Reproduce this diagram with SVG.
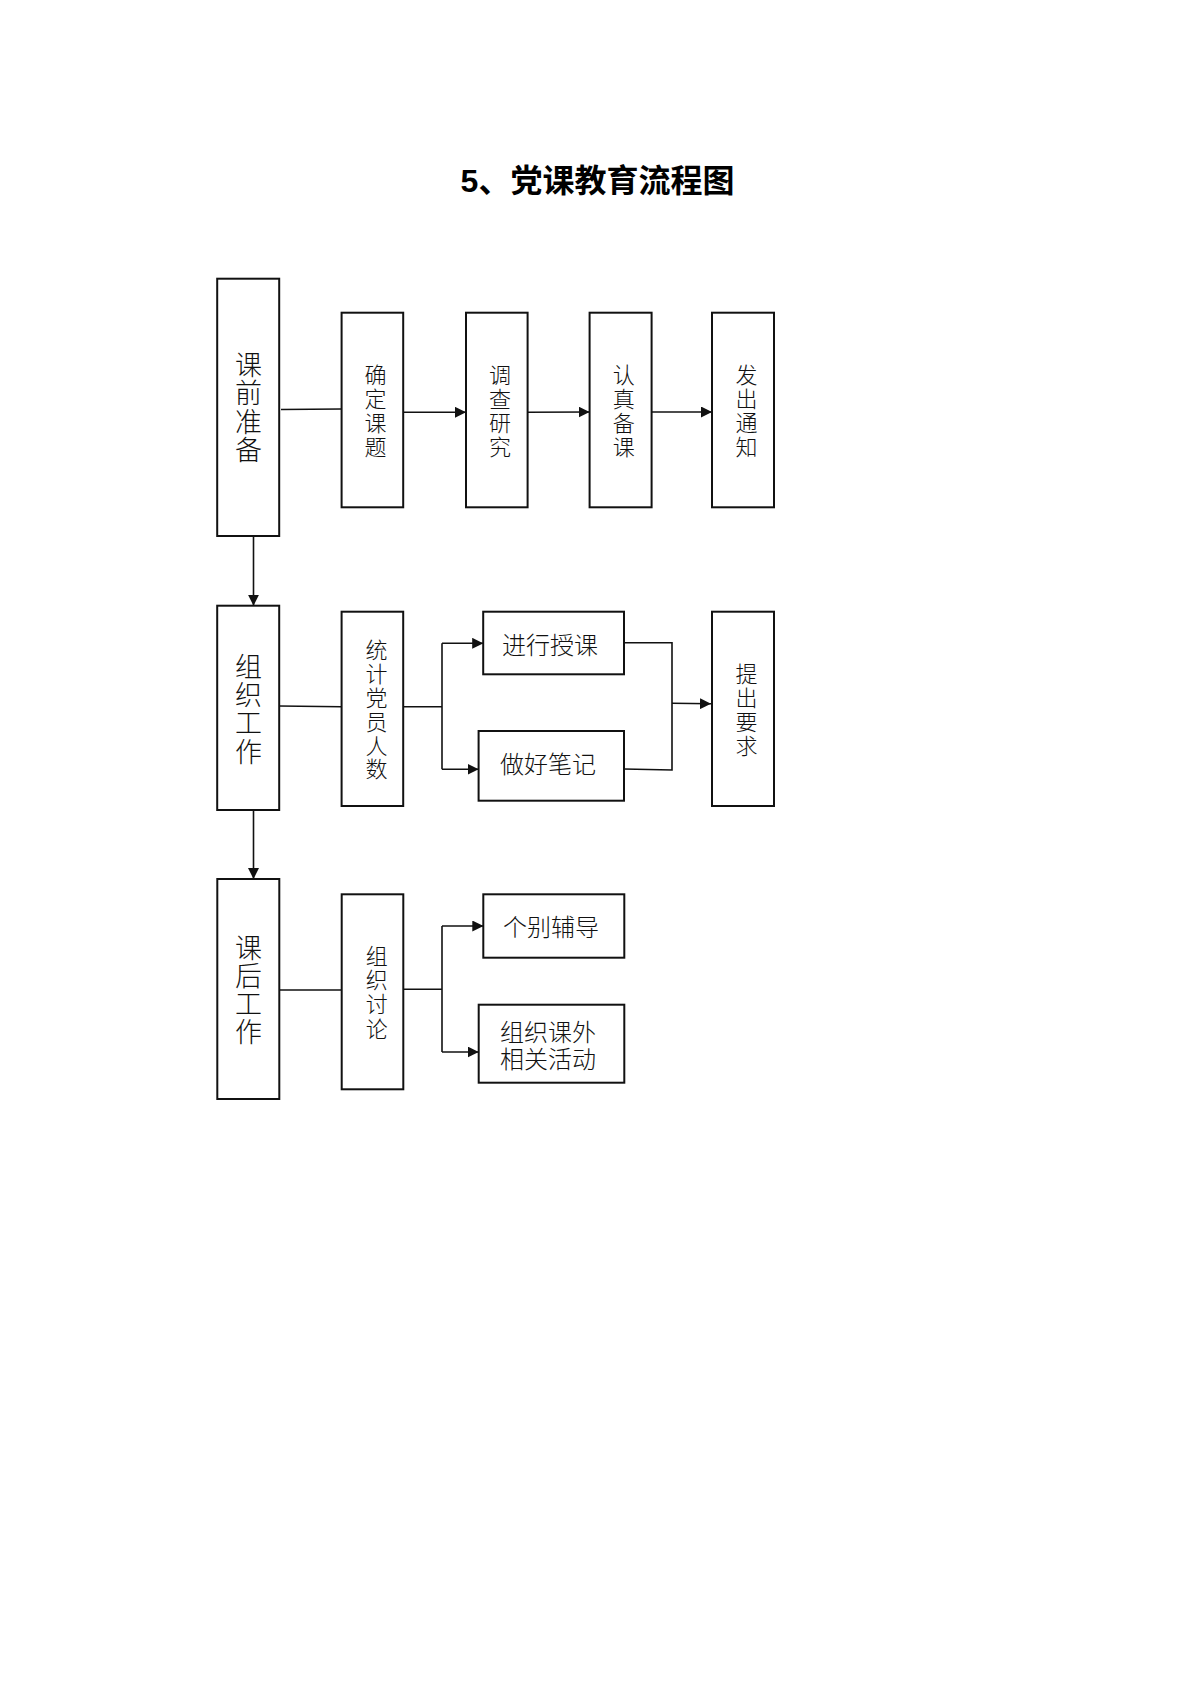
<svg xmlns="http://www.w3.org/2000/svg" width="1200" height="1698" viewBox="0 0 1200 1698">
<style>
.box{fill:#fff;stroke:#111;stroke-width:2}
.ln{fill:none;stroke:#111;stroke-width:1.6}
.arr{marker-end:url(#ah)}
.t{font-family:"Noto Sans CJK SC","Liberation Sans",sans-serif;fill:#111;text-anchor:middle;font-weight:300}
.big{font-size:27px}
.sm{font-size:22px}
.hz{font-size:24px}
.title{font-family:"Liberation Sans","Noto Sans CJK SC",sans-serif;font-weight:bold;font-size:32px;text-anchor:middle;fill:#000}
</style>
<defs>
<marker id="ah" markerUnits="userSpaceOnUse" markerWidth="11" markerHeight="11" refX="11" refY="5.5" orient="auto">
<path d="M0,0 L11,5.5 L0,11 z" fill="#111"/>
</marker>
</defs>
<rect width="1200" height="1698" fill="#fff"/>
<text class="title" x="597.5" y="192">5、党课教育流程图</text>

<g id="connectors">
<line class="ln" x1="281" y1="409.5" x2="341.6" y2="409"/>
<line class="ln arr" x1="403.2" y1="412.3" x2="466" y2="412.3"/>
<line class="ln arr" x1="527.6" y1="412.3" x2="589.6" y2="412"/>
<line class="ln arr" x1="651.6" y1="412" x2="712" y2="412"/>
<line class="ln arr" x1="253.5" y1="536" x2="253.5" y2="605.7"/>
<line class="ln" x1="279.2" y1="706" x2="341.6" y2="706.7"/>
<line class="ln" x1="403.2" y1="706.7" x2="442" y2="706.7"/>
<line class="ln" x1="442" y1="643.3" x2="442" y2="769.3"/>
<line class="ln arr" x1="442" y1="643.3" x2="483.2" y2="643.3"/>
<line class="ln arr" x1="442" y1="769.3" x2="478.6" y2="769.3"/>
<polyline class="ln" points="624,642.7 672,642.7 672,770 624,769"/>
<line class="ln arr" x1="672" y1="703.3" x2="711" y2="703.8"/>
<line class="ln arr" x1="253.5" y1="810" x2="253.5" y2="879"/>
<line class="ln" x1="279.3" y1="990" x2="341.7" y2="990"/>
<line class="ln" x1="403.3" y1="989.3" x2="442" y2="989.3"/>
<line class="ln" x1="442" y1="926" x2="442" y2="1052"/>
<line class="ln arr" x1="442" y1="926" x2="483.3" y2="926"/>
<line class="ln arr" x1="442" y1="1052" x2="478.7" y2="1052"/>
</g>

<g id="n-kqzb">
<rect class="box" x="217.2" y="278.7" width="62" height="257.3"/>
<text class="t big"><tspan x="248.5" y="375">课</tspan><tspan x="248.5" y="403.3">前</tspan><tspan x="248.5" y="431.6">准</tspan><tspan x="248.5" y="460">备</tspan></text>
</g>
<g id="n-qdkt">
<rect class="box" x="341.6" y="312.7" width="61.6" height="194.6"/>
<text class="t sm"><tspan x="375.5" y="383.4">确</tspan><tspan x="375.5" y="407.3">定</tspan><tspan x="375.5" y="431.2">课</tspan><tspan x="375.5" y="455.1">题</tspan></text>
</g>
<g id="n-dcyj">
<rect class="box" x="466" y="312.7" width="61.6" height="194.6"/>
<text class="t sm"><tspan x="500" y="383.4">调</tspan><tspan x="500" y="407.3">查</tspan><tspan x="500" y="431.2">研</tspan><tspan x="500" y="455.1">究</tspan></text>
</g>
<g id="n-rzbk">
<rect class="box" x="589.6" y="312.7" width="62" height="194.6"/>
<text class="t sm"><tspan x="623.8" y="383.4">认</tspan><tspan x="623.8" y="407.3">真</tspan><tspan x="623.8" y="431.2">备</tspan><tspan x="623.8" y="455.1">课</tspan></text>
</g>
<g id="n-fctz">
<rect class="box" x="712" y="312.7" width="62" height="194.6"/>
<text class="t sm"><tspan x="746.5" y="383.4">发</tspan><tspan x="746.5" y="407.3">出</tspan><tspan x="746.5" y="431.2">通</tspan><tspan x="746.5" y="455.1">知</tspan></text>
</g>

<g id="n-zzgz">
<rect class="box" x="217.2" y="605.7" width="62" height="204.3"/>
<text class="t big"><tspan x="248.5" y="676.6">组</tspan><tspan x="248.5" y="704.9">织</tspan><tspan x="248.5" y="733.2">工</tspan><tspan x="248.5" y="761.5">作</tspan></text>
</g>
<g id="n-tjdyrs">
<rect class="box" x="341.6" y="611.7" width="61.6" height="194.3"/>
<text class="t sm"><tspan x="376.5" y="658.4">统</tspan><tspan x="376.5" y="682.2">计</tspan><tspan x="376.5" y="706">党</tspan><tspan x="376.5" y="729.8">员</tspan><tspan x="376.5" y="753.6">人</tspan><tspan x="376.5" y="777.4">数</tspan></text>
</g>
<g id="n-jxsk">
<rect class="box" x="483.2" y="611.7" width="140.8" height="62.6"/>
<text class="t hz" x="550" y="654">进行授课</text>
</g>
<g id="n-zhbj">
<rect class="box" x="478.6" y="731" width="145.4" height="69.7"/>
<text class="t hz" x="548" y="773">做好笔记</text>
</g>
<g id="n-tcyq">
<rect class="box" x="712" y="611.7" width="62" height="194.3"/>
<text class="t sm"><tspan x="746.5" y="681.5">提</tspan><tspan x="746.5" y="705.7">出</tspan><tspan x="746.5" y="729.9">要</tspan><tspan x="746.5" y="754.1">求</tspan></text>
</g>

<g id="n-khgz">
<rect class="box" x="217.3" y="879" width="62" height="220"/>
<text class="t big"><tspan x="248.5" y="958.2">课</tspan><tspan x="248.5" y="986">后</tspan><tspan x="248.5" y="1013.8">工</tspan><tspan x="248.5" y="1041.6">作</tspan></text>
</g>
<g id="n-zztl">
<rect class="box" x="341.7" y="894.3" width="61.6" height="195"/>
<text class="t sm"><tspan x="376.7" y="964">组</tspan><tspan x="376.7" y="988.2">织</tspan><tspan x="376.7" y="1012.4">讨</tspan><tspan x="376.7" y="1036.6">论</tspan></text>
</g>
<g id="n-gbfd">
<rect class="box" x="483.3" y="894.3" width="141" height="63.4"/>
<text class="t hz" x="551" y="936">个别辅导</text>
</g>
<g id="n-zzkw">
<rect class="box" x="478.7" y="1004.7" width="145.6" height="78"/>
<text class="t hz"><tspan x="548" y="1040.8">组织课外</tspan><tspan x="548" y="1068.4">相关活动</tspan></text>
</g>
</svg>
